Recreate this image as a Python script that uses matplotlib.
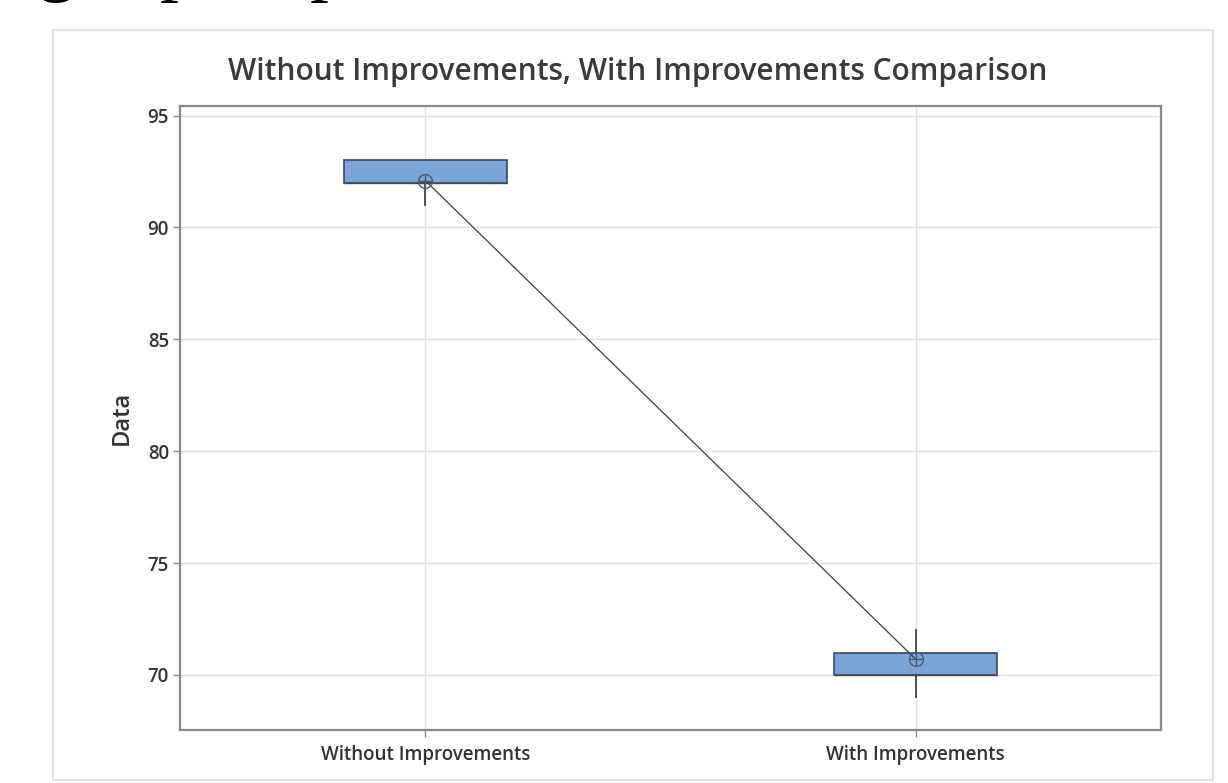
import matplotlib
matplotlib.use("Agg")
import matplotlib.pyplot as plt
from matplotlib.patches import Rectangle

# ---- data ----
categories = ["Without Improvements", "With Improvements"]
q1 = [92.0, 70.0]
medians = [92.0, 70.0]
q3 = [93.0, 71.0]
whisker_lo = [91.0, 69.0]
whisker_hi = [93.0, 72.0]
means = [92.1, 70.7]
yticks = [70, 75, 80, 85, 90, 95]
title = "Without Improvements, With Improvements Comparison"
ylabel = "Data"

W, H = 1228, 783
fig = plt.figure(figsize=(W / 100, H / 100), dpi=100)
fig.patch.set_facecolor("white")

def fx(px):
    return px / W

def fy(py):
    return 1 - py / H

# outer panel frame
fig.patches.append(Rectangle((fx(53), fy(780)), fx(1213) - fx(53), fy(30) - fy(780),
                             transform=fig.transFigure, fill=False,
                             edgecolor="#dcdcdc", linewidth=1.2))

# cut-off serif text at very top
for ch, px in [("g", 38), ("p", 160), ("p", 310)]:
    fig.text(fx(px), 1 + 13 / H, ch, fontsize=54, family="Liberation Serif",
             va="baseline", ha="left", color="black")

ax = fig.add_axes([fx(180), fy(730), fx(1161) - fx(180), fy(106) - fy(730)])

stats = []
for i, c in enumerate(categories):
    stats.append(dict(label=c, q1=q1[i], med=medians[i], q3=q3[i],
                      whislo=whisker_lo[i], whishi=whisker_hi[i], fliers=[]))

positions = list(range(len(categories)))
ax.bxp(stats, positions=positions, widths=0.333, patch_artist=True,
       showcaps=False, showfliers=False,
       boxprops=dict(facecolor="#7ba4d8", edgecolor="#3c4a5a", linewidth=1.2),
       medianprops=dict(color="#3c4a5a", linewidth=1.0),
       whiskerprops=dict(color="#333333", linewidth=1.2), zorder=3)

ax.plot(positions, means, color="#404040", linewidth=0.9, zorder=4)
ax.plot(positions, means, linestyle="none", marker="o", markersize=10,
        markerfacecolor="none", markeredgecolor="#4a5a70", markeredgewidth=1.0, zorder=5)
ax.plot(positions, means, linestyle="none", marker="+", markersize=10,
        markeredgecolor="#4a5a70", markeredgewidth=1.0, zorder=5)

ax.set_xlim(-0.5, 1.5)
ax.set_ylim(67.54, 95.43)
ax.set_yticks(yticks)
ax.set_xticks(positions)
ax.set_xticklabels(categories)

ax.grid(True, color="#e3e3e3", linewidth=1.0, zorder=0)
ax.set_axisbelow(True)

for s in ax.spines.values():
    s.set_color("#8a8a8a")
    s.set_linewidth(1.6)

ax.tick_params(axis="both", colors="#8a8a8a", length=5, width=1.0, direction="out",
               labelcolor="#333333")
for lab in ax.get_yticklabels():
    lab.set_fontfamily("Open Sans")
    lab.set_fontweight("semibold")
    lab.set_fontsize(13.5)
for lab in ax.get_xticklabels():
    lab.set_fontfamily("Open Sans")
    lab.set_fontweight("semibold")
    lab.set_fontsize(13.5)
ax.tick_params(axis="x", pad=6)
ax.tick_params(axis="y", pad=3)

ax.set_ylabel(ylabel, fontsize=17, family="Open Sans", fontweight="semibold",
              color="#333333", labelpad=10)

fig.text(fx(638), fy(72), title, ha="center", va="center", fontsize=21.5,
         family="Open Sans", fontweight="semibold", color="#3a3a3a")

fig.savefig("out.png", dpi=100, facecolor="white")
